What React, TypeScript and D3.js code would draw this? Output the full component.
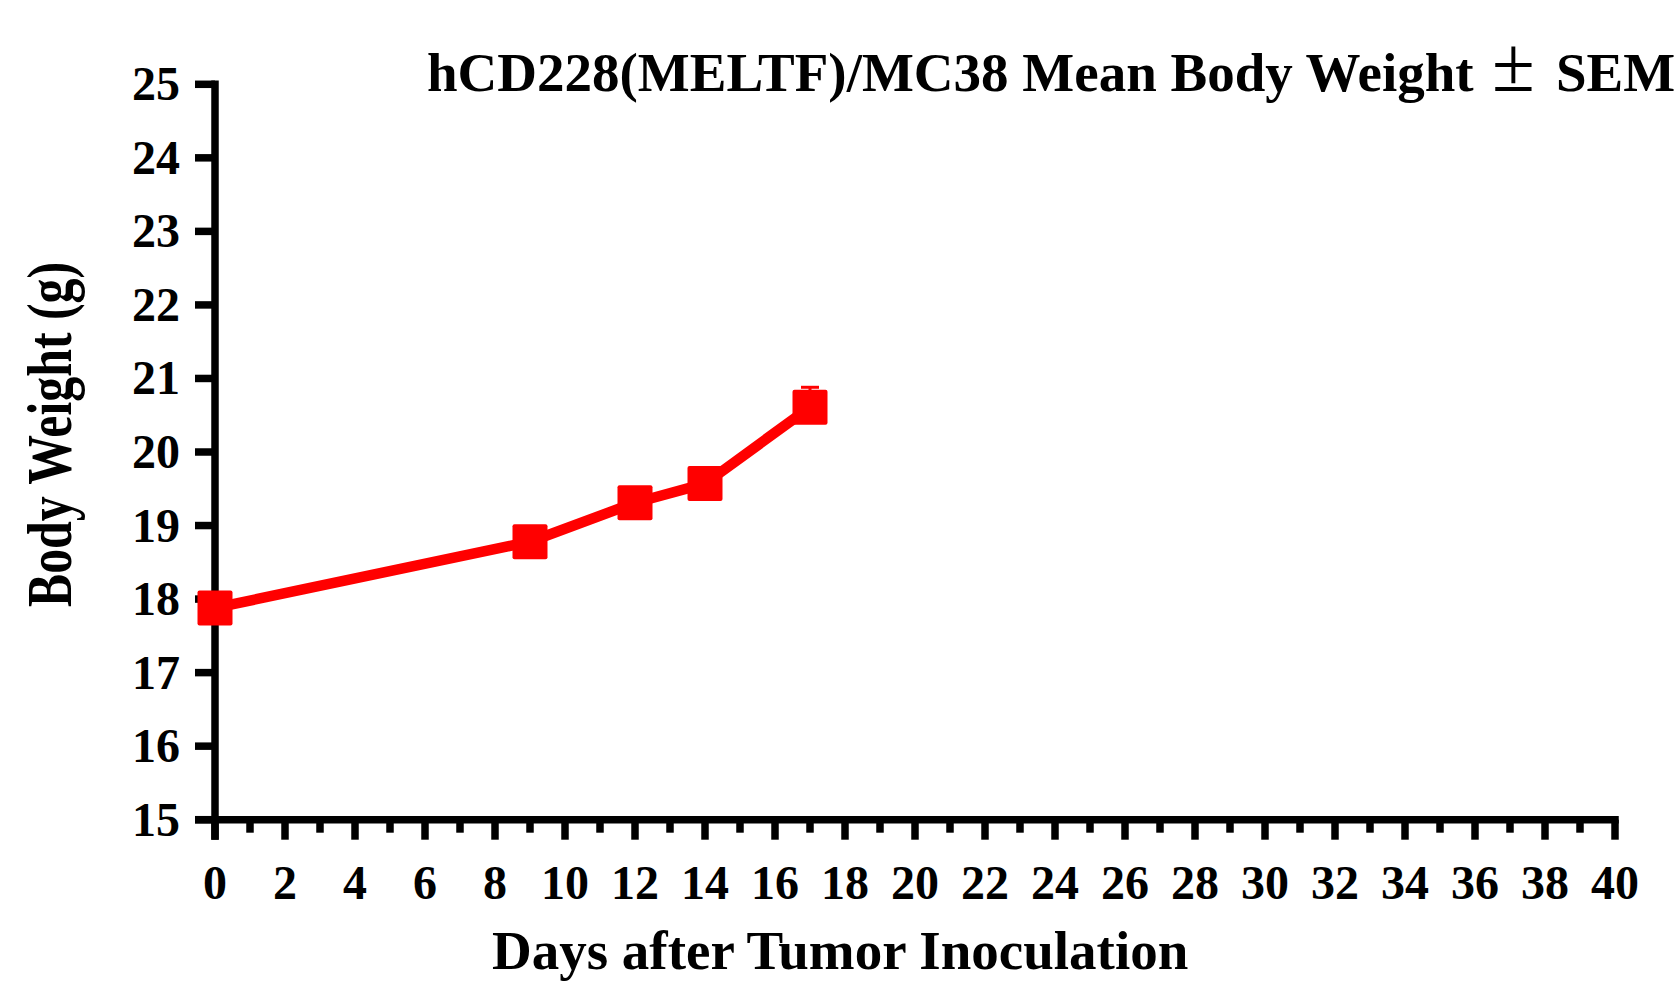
import React from "react";
import * as d3 from "d3";

const days = [0, 9, 12, 14, 17];
const meanWeight = [17.88, 18.78, 19.31, 19.57, 20.61];
const semWeight = [0.12, 0.15, 0.14, 0.13, 0.27];
const yTicks = [15, 16, 17, 18, 19, 20, 21, 22, 23, 24, 25];
const xMajorTicks = d3.range(0, 41, 2);
const xMinorTicks = d3.range(1, 40, 2);
const titleMain = "hCD228(MELTF)/MC38 Mean Body Weight";
const titlePM = "±";
const titleEnd = "SEM";
const xTitle = "Days after Tumor Inoculation";
const yTitle = "Body Weight (g)";

const W = 1678;
const H = 994;
const FONT = "'Liberation Serif', 'Times New Roman', serif";

export default function App() {
  const x = d3.scaleLinear().domain([0, 40]).range([215, 1615]);
  const y = d3.scaleLinear().domain([15, 25]).range([819.7, 84.3]);
  const axisW = 7.5;
  const red = "#ff0000";
  const line = d3
    .line<number>()
    .x((_, i) => x(days[i]))
    .y((d) => y(d));
  const sq = 35;
  return (
    <svg
      width={W}
      height={H}
      viewBox={`0 0 ${W} ${H}`}
      style={{ position: "absolute", left: 0, top: 0, background: "#fff" }}
    >
      <rect x={0} y={0} width={W} height={H} fill="#fff" />
      {/* y axis */}
      <line x1={x(0)} x2={x(0)} y1={y(25) - axisW / 2} y2={y(15) + 20} stroke="#000" strokeWidth={axisW} />
      {/* x axis */}
      <line x1={x(0) - 20} x2={x(40) + axisW / 2} y1={y(15)} y2={y(15)} stroke="#000" strokeWidth={axisW} />
      {yTicks.map((t) => (
        <g key={"y" + t}>
          <line x1={x(0) - 20} x2={x(0)} y1={y(t)} y2={y(t)} stroke="#000" strokeWidth={axisW} />
          <text
            x={180}
            y={y(t) + 16}
            textAnchor="end"
            fontFamily={FONT}
            fontWeight="bold"
            fontSize={48}
            fill="#000"
          >
            {t}
          </text>
        </g>
      ))}
      {xMajorTicks.map((t) => (
        <g key={"xM" + t}>
          <line x1={x(t)} x2={x(t)} y1={y(15)} y2={y(15) + 20} stroke="#000" strokeWidth={axisW} />
          <text
            x={x(t)}
            y={899}
            textAnchor="middle"
            fontFamily={FONT}
            fontWeight="bold"
            fontSize={48}
            fill="#000"
          >
            {t}
          </text>
        </g>
      ))}
      {xMinorTicks.map((t) => (
        <line key={"xm" + t} x1={x(t)} x2={x(t)} y1={y(15)} y2={y(15) + 13} stroke="#000" strokeWidth={axisW} />
      ))}
      {/* error bars (upper only) */}
      {days.map((d, i) => (
        <g key={"e" + d}>
          <line x1={x(d)} x2={x(d)} y1={y(meanWeight[i])} y2={y(meanWeight[i] + semWeight[i])} stroke={red} strokeWidth={3} />
          <line x1={x(d) - 9} x2={x(d) + 9} y1={y(meanWeight[i] + semWeight[i])} y2={y(meanWeight[i] + semWeight[i])} stroke={red} strokeWidth={3} />
        </g>
      ))}
      <path d={line(meanWeight) || ""} fill="none" stroke={red} strokeWidth={10.5} strokeLinejoin="round" />
      {days.map((d, i) => (
        <rect key={"m" + d} x={x(d) - sq / 2} y={y(meanWeight[i]) - sq / 2} width={sq} height={sq} rx={2} fill={red} />
      ))}
      {/* title */}
      <text x={427} y={91} fontFamily={FONT} fontWeight="bold" fontSize={55} fill="#000">
        {titleMain}
      </text>
      <text x={1513.5} y={91} textAnchor="middle" fontFamily={FONT} fontWeight="normal" fontSize={78} fill="#000">
        {titlePM}
      </text>
      <text x={1556} y={91} fontFamily={FONT} fontWeight="bold" fontSize={55} fill="#000">
        {titleEnd}
      </text>
      {/* axis titles */}
      <text x={492} y={969} fontFamily={FONT} fontWeight="bold" fontSize={55} fill="#000">
        {xTitle}
      </text>
      <text
        transform={`translate(71, 434.5) rotate(-90)`}
        textAnchor="middle"
        fontFamily={FONT}
        fontWeight="bold"
        fontSize={64}
        textLength={345}
        lengthAdjust="spacingAndGlyphs"
        fill="#000"
      >
        {yTitle}
      </text>
    </svg>
  );
}
